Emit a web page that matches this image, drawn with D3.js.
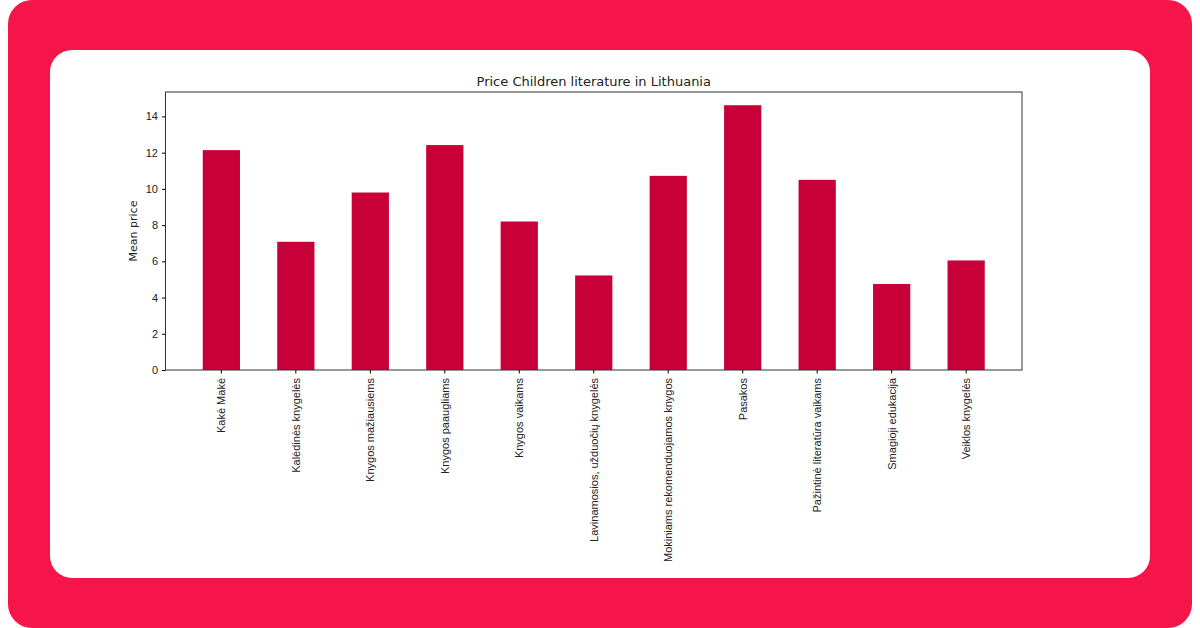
<!DOCTYPE html>
<html>
<head>
<meta charset="utf-8">
<script src="https://cdn.jsdelivr.net/npm/d3@7"></script>
<style>
  body { margin: 0; background: #fff; }
  svg { display: block; font-family: "DejaVu Sans", sans-serif; }
</style>
</head>
<body>
<svg id="graph" width="1200" height="628"></svg>
<script>
const categories = [
  'Kakė Makė', 'Kalėdinės knygelės', 'Knygos mažiausiems', 'Knygos paaugliams',
  'Knygos vaikams', 'Lavinamosios, užduočių knygelės', 'Mokiniams rekomenduojamos knygos',
  'Pasakos', 'Pažintinė literatūra vaikams', 'Smagioji edukacija', 'Veiklos knygelės'
];
const meanPrice = [12.14, 7.08, 9.8, 12.42, 8.2, 5.22, 10.72, 14.62, 10.5, 4.75, 6.05];
const yTicks = [0, 2, 4, 6, 8, 10, 12, 14];

(function () {
  const svg = d3.select('svg#graph');

  // backdrop and card
  svg.append('rect').attr('x', 8).attr('y', 0).attr('width', 1184).attr('height', 628)
    .attr('rx', 24).attr('fill', '#f5154b');
  svg.append('rect').attr('x', 50).attr('y', 50).attr('width', 1100).attr('height', 528)
    .attr('rx', 22).attr('fill', '#fff');

  const pLeft = 165.5, pRight = 1022, pTop = 92, pBottom = 370;

  const x = d3.scaleBand().domain(categories).range([pLeft, pRight]).padding(0.5);
  const y = d3.scaleLinear().domain([0, 15.35]).range([pBottom, pTop]);

  svg.append('g')
    .selectAll('rect')
    .data(meanPrice)
    .join('rect')
    .attr('x', (d, i) => x(categories[i]))
    .attr('width', x.bandwidth())
    .attr('y', (d) => y(d))
    .attr('height', (d) => y(0) - y(d))
    .attr('fill', '#c8003a');

  svg.append('rect').attr('x', pLeft).attr('y', pTop)
    .attr('width', pRight - pLeft).attr('height', pBottom - pTop)
    .attr('fill', 'none').attr('stroke', '#333').attr('stroke-width', 1);

  const yAxis = svg.append('g')
    .attr('transform', `translate(${pLeft},0)`)
    .call(d3.axisLeft(y).tickValues(yTicks).tickSize(3.5).tickPadding(4));
  yAxis.select('.domain').remove();
  yAxis.selectAll('text').style('font-size', '11px').attr('fill', '#222');

  const xAxis = svg.append('g')
    .attr('transform', `translate(0,${pBottom})`)
    .call(d3.axisBottom(x).tickSize(3.5).tickPadding(4));
  xAxis.select('.domain').remove();
  xAxis.selectAll('text')
    .style('font-size', '11px').attr('fill', '#222')
    .attr('text-anchor', 'end')
    .attr('dy', '0.35em')
    .attr('transform', 'translate(0,8) rotate(-90)')
    .attr('x', 0).attr('y', 0);

  const midY = (pTop + pBottom) / 2;
  svg.append('text')
    .attr('x', 137).attr('y', midY)
    .attr('transform', `rotate(-90,137,${midY})`)
    .attr('text-anchor', 'middle').style('font-size', '11px').attr('fill', '#222')
    .text('Mean price');

  svg.append('text')
    .attr('x', (pLeft + pRight) / 2).attr('y', 86)
    .attr('text-anchor', 'middle').style('font-size', '13px').attr('fill', '#222')
    .text('Price Children literature in Lithuania');
})();
</script>
</body>
</html>
